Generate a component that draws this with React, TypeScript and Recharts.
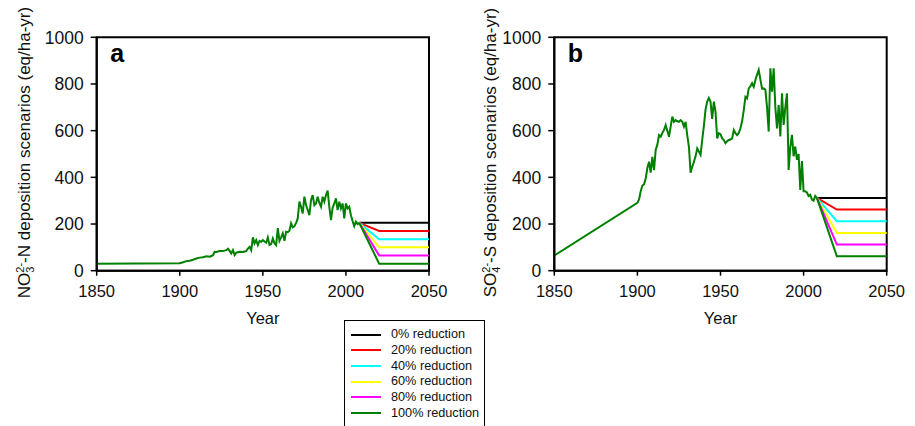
import React from 'react';
import { LineChart, Line, XAxis, YAxis, ReferenceArea } from 'recharts';

const FONT = '"Liberation Sans", Arial, Helvetica, sans-serif';

const xTicks = [1850, 1900, 1950, 2000, 2050];
const yTicks = [0, 200, 400, 600, 800, 1000];

const scenarioNames = ['0% reduction', '20% reduction', '40% reduction', '60% reduction', '80% reduction', '100% reduction'];
const scenarioColors = ['#000000', '#ff0000', '#00ffff', '#ffff00', '#ff00ff', '#008000'];
const scenarioYears = [2008, 2020, 2050];

const scenarioStartA = 205;
const scenarioEndA = [205, 170, 135, 100, 65, 30];
const scenarioStartB = 312;
const scenarioEndB = [312, 262, 212, 162, 112, 62];

const histYearsA = [
  1850, 1900, 1902, 1904, 1906, 1908, 1910, 1912, 1914, 1916, 1918, 1919, 1920, 1921, 1922, 1924, 1926, 1928, 1929,
  1930, 1931, 1932, 1933, 1934, 1936, 1938, 1939, 1940, 1941, 1942, 1943, 1944, 1945, 1946, 1947, 1948, 1949,
  1950, 1951, 1952, 1953, 1954, 1955, 1956, 1957, 1958, 1959, 1960, 1961, 1962, 1963, 1964, 1965, 1966, 1967, 1968, 1969,
  1970, 1971, 1972, 1973, 1974, 1975, 1976, 1977, 1978, 1979, 1980, 1981, 1982, 1983, 1984, 1985, 1986, 1987, 1988, 1989,
  1990, 1991, 1992, 1993, 1994, 1995, 1996, 1997, 1998, 1999, 2000, 2001, 2002, 2003, 2004, 2005, 2006, 2007, 2008,
];
const histValuesA = [
  30, 32, 36, 41, 43, 47, 52, 56, 58, 62, 60, 63, 66, 81, 80, 84, 84, 88, 94,
  85, 74, 88, 67, 77, 81, 80, 82, 84, 95, 102, 88, 143, 117, 131, 110, 128, 124,
  131, 125, 120, 143, 110, 114, 138, 118, 110, 182, 128, 143, 160, 128, 167, 165, 171, 203, 186, 190,
  205, 224, 296, 274, 245, 317, 281, 260, 238, 303, 324, 281, 288, 317, 290, 274, 317, 296, 324, 343,
  274, 217, 270, 288, 310, 260, 296, 267, 288, 224, 288, 267, 274, 238, 213, 191, 210, 200, 205,
];

const histYearsB = [
  1850, 1900, 1901, 1902, 1903, 1904, 1905, 1906, 1907, 1908, 1909,
  1910, 1911, 1912, 1913, 1914, 1915, 1916, 1917, 1918, 1919,
  1920, 1921, 1922, 1923, 1924, 1925, 1926, 1927, 1928, 1929,
  1930, 1931, 1932, 1933, 1934, 1935, 1936, 1937, 1938, 1939,
  1940, 1941, 1942, 1943, 1944, 1945, 1946, 1947, 1948, 1949,
  1950, 1951, 1952, 1953, 1954, 1955, 1956, 1957, 1958, 1959,
  1960, 1961, 1962, 1963, 1964, 1965, 1966, 1967, 1968, 1969,
  1970, 1971, 1972, 1973, 1974, 1975, 1976, 1977, 1978, 1979,
  1980, 1981, 1982, 1983, 1984, 1985, 1986, 1987, 1988, 1989,
  1990, 1991, 1992, 1993, 1994, 1995, 1996, 1997, 1998, 1999,
  2000, 2001, 2002, 2003, 2004, 2005, 2006, 2007, 2008,
];
const histValuesB = [
  65, 291, 305, 340, 365, 370, 395, 440, 467, 420, 488,
  431, 517, 540, 581, 574, 590, 603, 624, 600, 574,
  617, 660, 638, 645, 640, 638, 645, 638, 617, 638,
  580, 531, 420, 445, 467, 490, 524, 510, 496, 560,
  620, 690, 725, 740, 724, 650, 724, 681, 567, 589,
  585, 567, 560, 546, 555, 560, 562, 567, 603, 589,
  581, 590, 610, 640, 688, 745, 738, 781, 790, 803,
  788, 817, 840, 860, 820, 780, 781, 775, 700, 596,
  867, 767, 867, 700, 610, 710, 575, 760, 625, 700,
  760, 432, 530, 582, 490, 532, 475, 500, 346, 470,
  340, 340, 335, 320, 325, 305, 300, 320, 312,
];

type PanelProps = {
  letter: string;
  species: string;
  sub: string;
  suffix: string;
  histYears: number[];
  histValues: number[];
  start: number;
  ends: number[];
  width: number;
  marginLeft: number;
  marginRight: number;
  labelX: number;
};

function Panel(p: PanelProps) {
  const hist = p.histYears.map((y, i) => ({ year: y, v: p.histValues[i] }));
  const scen = p.ends.map((e) => [
    { year: scenarioYears[0], v: p.start },
    { year: scenarioYears[1], v: e },
    { year: scenarioYears[2], v: e },
  ]);

  const yLabel = (props: any) => {
    const vb = props.viewBox || { y: 37.3, height: 233.4 };
    const cy = vb.y + vb.height / 2 - 1.5;
    const lx = p.labelX;
    return (
      <text
        x={lx}
        y={cy}
        transform={`rotate(-90 ${lx} ${cy})`}
        textAnchor="middle"
        fontSize={17}
        fontFamily={FONT}
        fill="#111"
      >
        <tspan>{p.species}</tspan>
        <tspan fontSize={11} dy={4}>{p.sub}</tspan>
        <tspan fontSize={11} dx={-6.1} dy={-10}>2-</tspan>
        <tspan dy={6}>{p.suffix}</tspan>
      </text>
    );
  };

  const xLabel = (props: any) => {
    const vb = props.viewBox || { x: 96.7, y: 270.7, width: 332.3 };
    return (
      <text x={vb.x + vb.width / 2} y={vb.y + 53.3} textAnchor="middle" fontSize={16.5} fontFamily={FONT} fill="#111">
        Year
      </text>
    );
  };

  const letterLabel = (props: any) => {
    const vb = props.viewBox || { x: 96.7, y: 37.3 };
    return (
      <text x={vb.x + 13.5} y={vb.y + 24.5} fontSize={25} fontWeight="bold" fontFamily={FONT} fill="#000">
        {p.letter}
      </text>
    );
  };

  return (
    <LineChart
      width={p.width}
      height={340}
      margin={{ top: 37.3, right: p.marginRight, bottom: 29.3, left: p.marginLeft }}
    >
      <XAxis
        type="number"
        dataKey="year"
        domain={[1850, 2050]}
        ticks={xTicks}
        height={40}
        tickSize={5}
        tickMargin={10}
        axisLine={{ stroke: '#000', strokeWidth: 2 }}
        tickLine={{ stroke: '#000', strokeWidth: 1.5 }}
        tick={{ fill: '#111', fontSize: 16.5, fontFamily: FONT }}
        label={xLabel}
      />
      <YAxis
        type="number"
        domain={[0, 1000]}
        ticks={yTicks}
        width={60}
        tickSize={6}
        tickMargin={7}
        axisLine={{ stroke: '#000', strokeWidth: 2 }}
        tickLine={{ stroke: '#000', strokeWidth: 1.5 }}
        tick={{ fill: '#111', fontSize: 17.5, fontFamily: FONT }}
        label={yLabel}
      />
      {scen.map((d, i) => (
        <Line
          key={scenarioNames[i]}
          data={d}
          dataKey="v"
          name={scenarioNames[i]}
          stroke={scenarioColors[i]}
          strokeWidth={2}
          dot={false}
          activeDot={false}
          isAnimationActive={false}
        />
      ))}
      <Line
        data={hist}
        dataKey="v"
        name="historical"
        stroke="#008000"
        strokeWidth={2}
        dot={false}
        activeDot={false}
        isAnimationActive={false}
      />
      <ReferenceArea
        x1={1850}
        x2={2050}
        y1={0}
        y2={1000}
        fill="none"
        stroke="#000"
        strokeWidth={2}
        ifOverflow="visible"
        label={letterLabel}
      />
    </LineChart>
  );
}

function LegendBox() {
  return (
    <div
      style={{
        position: 'absolute',
        left: 344,
        top: 320,
        width: 141,
        height: 120,
        border: '1.5px solid #000',
        boxSizing: 'border-box',
        background: '#fff',
        fontFamily: FONT,
      }}
    >
      {scenarioNames.map((n, i) => (
        <div
          key={n}
          style={{
            position: 'absolute',
            left: 0,
            top: 6 + i * 15.65,
            height: 15.65,
            display: 'flex',
            alignItems: 'center',
            whiteSpace: 'nowrap',
          }}
        >
          <div style={{ marginLeft: 5.5, width: 30, height: 2, background: scenarioColors[i] }} />
          <div style={{ marginLeft: 10.5, fontSize: 12.7, color: '#111', lineHeight: '15px' }}>{n}</div>
        </div>
      ))}
    </div>
  );
}

export default function App() {
  return (
    <div
      style={{
        position: 'absolute',
        left: 0,
        top: 0,
        width: 915,
        height: 426,
        overflow: 'hidden',
        background: '#fff',
      }}
    >
      <div style={{ position: 'absolute', left: 0, top: 0 }}>
        <Panel
          letter="a"
          species="NO"
          sub="3"
          suffix="-N deposition scenarios (eq/ha-yr)"
          histYears={histYearsA}
          histValues={histValuesA}
          start={scenarioStartA}
          ends={scenarioEndA}
          width={460}
          marginLeft={36.7}
          marginRight={31}
          labelX={29.5}
        />
      </div>
      <div style={{ position: 'absolute', left: 460, top: 0 }}>
        <Panel
          letter="b"
          species="SO"
          sub="4"
          suffix="-S deposition scenarios (eq/ha-yr)"
          histYears={histYearsB}
          histValues={histValuesB}
          start={scenarioStartB}
          ends={scenarioEndB}
          width={455}
          marginLeft={34.3}
          marginRight={28.3}
          labelX={36}
        />
      </div>
      <LegendBox />
    </div>
  );
}
